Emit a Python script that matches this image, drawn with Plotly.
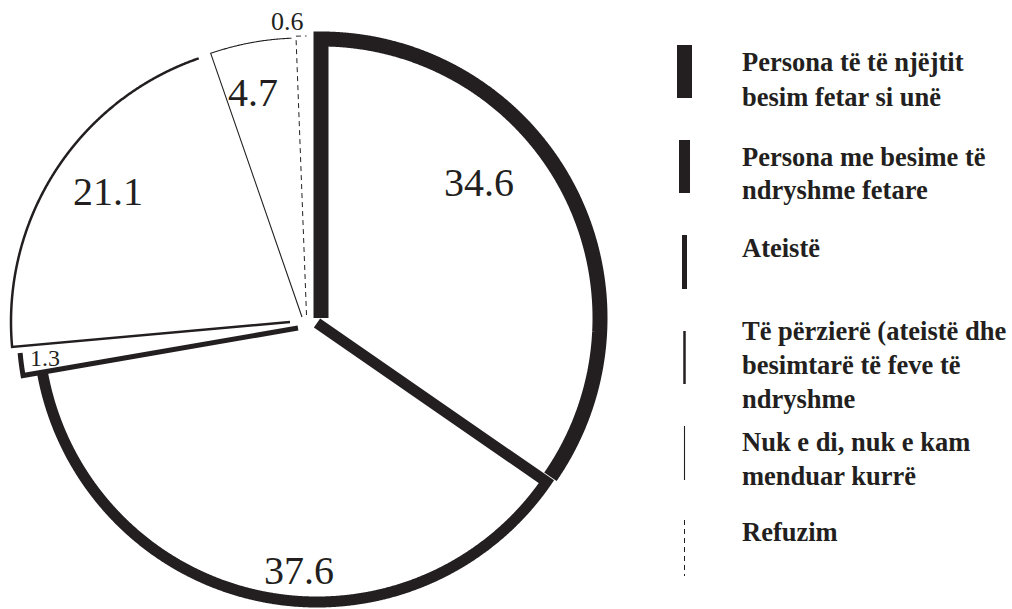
import numpy as np
import plotly.graph_objects as go

# ---------------- data ----------------
categories = [
    "Persona të të njëjtit besim fetar si unë",
    "Persona me besime të ndryshme fetare",
    "Ateistë",
    "Të përzierë (ateistë dhe besimtarë të feve të ndryshme",
    "Nuk e di, nuk e kam menduar kurrë",
    "Refuzim",
]
values = [34.6, 37.6, 1.3, 21.1, 4.7, 0.6]
value_labels = ["34.6", "37.6", "1.3", "21.1", "4.7", "0.6"]
legend_text = [
    ["Persona të të njëjtit", "besim fetar si unë"],
    ["Persona me besime të", "ndryshme fetare"],
    ["Ateistë"],
    ["Të përzierë (ateistë dhe", "besimtarë të feve të", "ndryshme"],
    ["Nuk e di, nuk e kam", "menduar kurrë"],
    ["Refuzim"],
]

# ---------------- style / layout ----------------
W, H = 1012, 609
INK = "#231f20"
CX, CY, R = 307, 322, 279          # pie centre (px) and radius (px)
slice_shift = [(14, -4), (10, 1), (-9, 6), (-17, 0), (-5, -5), (-0.5, -7)]  # exploded offsets
line_widths = [15, 11, 5, 2.5, 1.1, 1]
line_dash = ["solid", "solid", "solid", "solid", "solid", "5px,4px"]
label_pos = [(221, 51), (249, 181.8), (264, 262.2), (238, 303.2), (236, 346.8), (301, 356.2)]
label_size = [40, 40, 24, 40, 40, 26]

legend_x = 684.5
legend_bar = [(45, 98), (140, 193), (235, 289), (331, 384), (426, 480), (520, 576)]
legend_line_y = [[62, 97], [157, 190], [248], [331, 365, 399], [442, 476], [532]]
legend_text_x = 740
legend_font_size = 26.5

fig = go.Figure()

total = sum(values)
cum = np.concatenate([[0], np.cumsum(values)]) / total * 360.0

for i, v in enumerate(values):
    a0, a1 = cum[i], cum[i + 1]
    cx = CX + slice_shift[i][0]
    cy = CY + slice_shift[i][1]
    n = max(int((a1 - a0) * 6), 8)
    ang = np.radians(np.linspace(a0, a1, n))
    xs = np.concatenate([[cx], cx + R * np.sin(ang)])
    ys = np.concatenate([[cy], cy - R * np.cos(ang)])
    fig.add_trace(go.Scatter(
        x=xs, y=ys, mode="lines",
        line=dict(color=INK, width=line_widths[i], dash=line_dash[i], simplify=False),
        name=categories[i], showlegend=False, hoverinfo="skip",
    ))
    lr, la = label_pos[i]
    fig.add_annotation(
        x=CX + lr * np.sin(np.radians(la)), y=CY - lr * np.cos(np.radians(la)),
        text=value_labels[i], showarrow=False, xanchor="center", yanchor="middle",
        font=dict(family="Liberation Serif", size=label_size[i], color=INK),
    )

# custom legend
for i, cat in enumerate(categories):
    y0, y1 = legend_bar[i]
    fig.add_shape(type="line", xref="x", yref="y", x0=legend_x, x1=legend_x, y0=y0, y1=y1,
                  line=dict(color=INK, width=line_widths[i], dash=line_dash[i]))
    for txt, ty in zip(legend_text[i], legend_line_y[i]):
        fig.add_annotation(
            x=legend_text_x, y=ty, text="<b>" + txt + "</b>", showarrow=False,
            xanchor="left", yanchor="middle",
            font=dict(family="Liberation Serif", size=legend_font_size, color=INK),
        )

fig.update_layout(
    width=W, height=H,
    margin=dict(l=0, r=0, t=0, b=0),
    paper_bgcolor="white", plot_bgcolor="white",
    xaxis=dict(range=[0, W], visible=False, fixedrange=True),
    yaxis=dict(range=[H, 0], visible=False, fixedrange=True),
    showlegend=False,
)

fig.write_html("out.html", config={"displayModeBar": False},
               post_script="document.body.style.margin='0';")
